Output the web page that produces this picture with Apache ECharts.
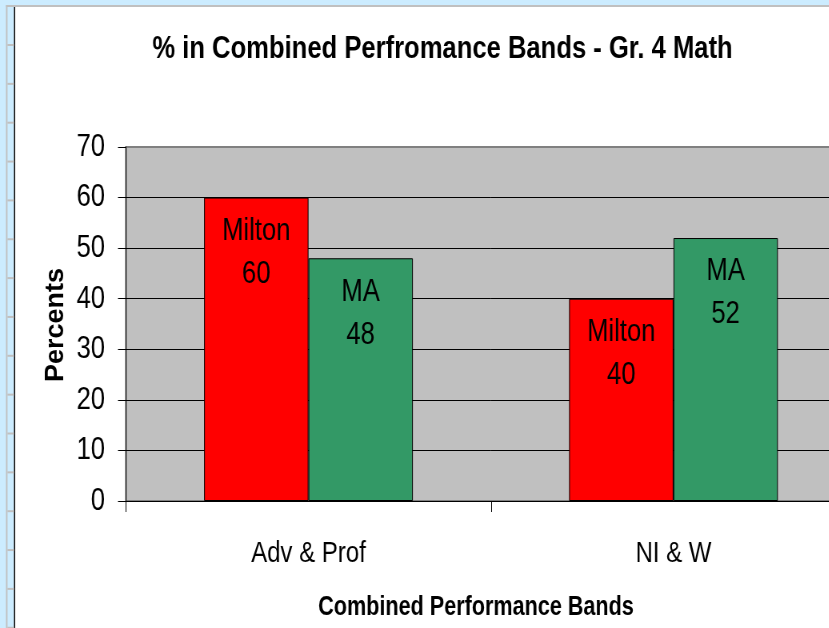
<!DOCTYPE html>
<html>
<head>
<meta charset="utf-8">
<script src="https://cdn.jsdelivr.net/npm/echarts@6/dist/echarts.min.js"></script>
<style>
  html, body { margin: 0; padding: 0; background: #ffffff; overflow: hidden; }
  #wrap { width: 829px; height: 628px; overflow: hidden; position: relative; }
  #chart { height: 628px; transform-origin: 0 0; position: absolute; left: 0; top: 0; }
</style>
</head>
<body>
<div id="wrap"><div id="chart"></div></div>
<script>
// Chart data
const categories = ['Adv & Prof', 'NI & W'];
const miltonValues = [60, 40];
const maValues = [48, 52];
const seriesNames = ['Milton', 'MA'];
const yTicks = [0, 10, 20, 30, 40, 50, 60, 70];

// Text is drawn in a condensed face: the chart is laid out wider and squeezed horizontally.
// The plot runs past the right edge of the window, so the canvas is wider than the view.
const SQUEEZE = 0.8;
const VIEW_W = 880;                       // visible-px width of the drawing surface
const K = 1 / SQUEEZE;                    // visible px -> internal px (horizontal)
const fx = v => v * K;
const W = Math.round(fx(VIEW_W));

const el = document.getElementById('chart');
el.style.width = W + 'px';
el.style.transform = 'scaleX(' + SQUEEZE + ')';

const chart = echarts.init(el, null, { renderer: 'canvas' });

const FONT = "'Liberation Sans', Arial, sans-serif";
const frameBlue = '#CCECFF';
const frameGray = '#C0C0C0';

// Window frame decoration on the top and left edges
const frame = [
  { type: 'rect', shape: { x: 0, y: 0, width: W, height: 5 }, style: { fill: frameBlue }, silent: true },
  { type: 'rect', shape: { x: 0, y: 0, width: fx(14), height: 628 }, style: { fill: frameBlue }, silent: true },
  { type: 'rect', shape: { x: fx(6), y: 5, width: W, height: 2 }, style: { fill: frameGray }, silent: true },
  { type: 'rect', shape: { x: fx(6), y: 5, width: fx(1.5), height: 628 }, style: { fill: frameGray }, silent: true },
  { type: 'rect', shape: { x: fx(14), y: 7, width: fx(1.2), height: 628 }, style: { fill: '#000000' }, silent: true }
];
for (let k = 0; k < 16; k++) {
  frame.push({
    type: 'rect',
    shape: { x: fx(7.5), y: 44 + 38.85 * k, width: fx(6.5), height: 2 },
    style: { fill: frameGray }, silent: true
  });
}
// Vertical axis title (counter-scaled so the rotated glyphs keep their shape)
frame.push({
  type: 'group',
  x: fx(56), y: 325,
  scaleX: K, scaleY: 1,
  children: [{
    type: 'text',
    rotation: Math.PI / 2,
    style: {
      text: 'Percents',
      font: 'bold 27px ' + FONT,
      fill: '#000000',
      align: 'center',
      verticalAlign: 'middle'
    }
  }]
});

const option = {
  animation: false,
  backgroundColor: '#ffffff',
  title: {
    text: '% in Combined Perfromance Bands - Gr. 4 Math',
    left: fx(442.5),
    top: 33,
    padding: 0,
    textAlign: 'center',
    textStyle: { fontFamily: FONT, fontWeight: 'bold', fontSize: 32, color: '#000000' }
  },
  graphic: frame,
  grid: {
    left: fx(126),
    top: 147,
    right: fx(VIEW_W - 856),
    bottom: 127,
    show: true,
    backgroundColor: '#C0C0C0',
    borderColor: '#808080',
    borderWidth: 2,
    containLabel: false
  },
  xAxis: {
    type: 'category',
    data: categories,
    name: 'Combined Performance Bands',
    nameLocation: 'middle',
    nameGap: 93,
    nameTextStyle: {
      fontFamily: FONT, fontWeight: 'bold', fontSize: 27, color: '#000000',
      padding: [0, fx(30), 0, 0]
    },
    axisLine: { show: true, lineStyle: { color: '#000000', width: 1 } },
    axisTick: { show: true, length: 11, lineStyle: { color: '#000000', width: 1 } },
    axisLabel: { fontFamily: FONT, fontSize: 30, color: '#000000', margin: 38 },
    splitLine: { show: false }
  },
  yAxis: {
    type: 'value',
    min: yTicks[0],
    max: yTicks[yTicks.length - 1],
    interval: 10,
    axisLine: { show: true, lineStyle: { color: '#000000', width: 1 } },
    axisTick: { show: true, length: fx(8), lineStyle: { color: '#000000', width: 1 } },
    axisLabel: { fontFamily: FONT, fontSize: 32, color: '#000000', margin: fx(21) },
    splitLine: { show: true, showMaxLine: false, lineStyle: { color: '#000000', width: 1 } }
  },
  series: [
    {
      name: seriesNames[0],
      type: 'bar',
      data: miltonValues,
      barWidth: '28.6%',
      barGap: '0%',
      itemStyle: { color: '#FF0000', borderColor: '#000000', borderWidth: 1 },
      label: {
        show: true, position: 'insideTop', distance: 12,
        formatter: '{a}\n{c}',
        fontFamily: FONT, fontSize: 32, lineHeight: 43, color: '#000000'
      }
    },
    {
      name: seriesNames[1],
      type: 'bar',
      data: maValues,
      barWidth: '28.6%',
      barGap: '0%',
      itemStyle: { color: '#339966', borderColor: '#000000', borderWidth: 1 },
      label: {
        show: true, position: 'insideTop', distance: 12,
        formatter: '{a}\n{c}',
        fontFamily: FONT, fontSize: 32, lineHeight: 43, color: '#000000'
      }
    }
  ]
};

chart.setOption(option);
</script>
</body>
</html>
